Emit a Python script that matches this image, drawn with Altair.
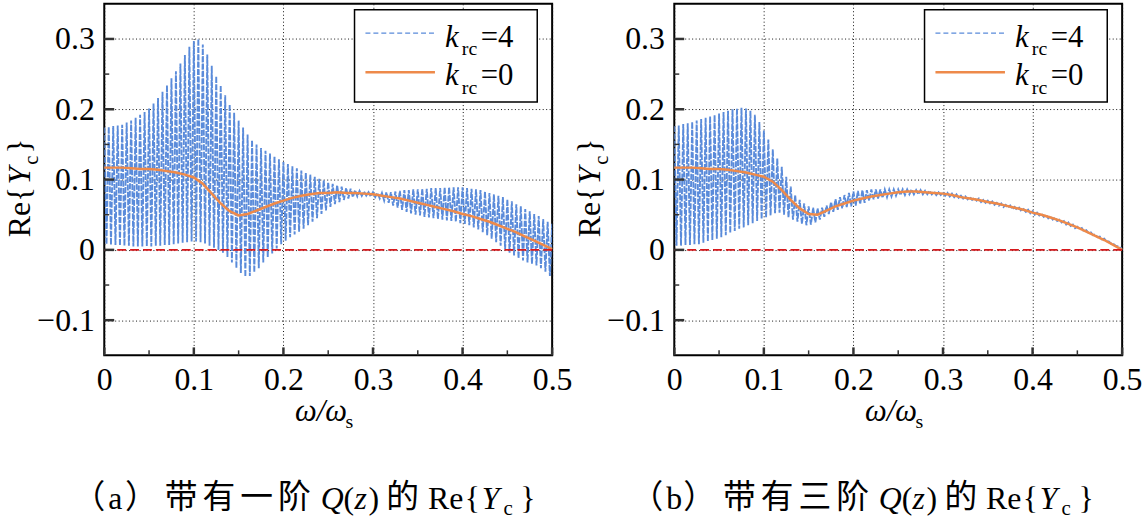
import altair as alt
import pandas as pd

# ---------------- data ----------------
# frequency grids (omega / omega_s)
W_FINE = [round(i * 0.005, 3) for i in range(101)]
W_COARSE = [round(i * 0.01, 2) for i in range(51)]
HALF_STEP = 0.0025

# (a) first-order Q(z): k_rc = 4 oscillation envelope (upper / lower turning points)
A_HI = [0.174, 0.175, 0.176, 0.177, 0.178, 0.181, 0.184, 0.188, 0.192, 0.196,
        0.201, 0.208, 0.216, 0.225, 0.234, 0.244, 0.254, 0.265, 0.277, 0.289,
        0.297, 0.300, 0.292, 0.278, 0.262, 0.247, 0.234, 0.220, 0.207, 0.195,
        0.184, 0.174, 0.164, 0.156, 0.150, 0.145, 0.141, 0.137, 0.133, 0.129,
        0.125, 0.122, 0.119, 0.116, 0.113, 0.110, 0.107, 0.104, 0.101, 0.099,
        0.096, 0.094, 0.092, 0.090, 0.088, 0.087, 0.085, 0.084, 0.083, 0.082,
        0.082, 0.081, 0.081, 0.082, 0.082, 0.083, 0.084, 0.085, 0.085, 0.086,
        0.086, 0.087, 0.087, 0.088, 0.088, 0.088, 0.089, 0.089, 0.089, 0.089,
        0.089, 0.088, 0.087, 0.086, 0.085, 0.083, 0.081, 0.079, 0.077, 0.075,
        0.072, 0.069, 0.065, 0.062, 0.058, 0.055, 0.051, 0.048, 0.044, 0.040,
        0.037]
A_LO = [0.008, 0.007, 0.007, 0.006, 0.006, 0.006, 0.005, 0.005, 0.005, 0.005,
        0.005, 0.006, 0.006, 0.007, 0.007, 0.008, 0.009, 0.010, 0.011, 0.012,
        0.012, 0.011, 0.009, 0.006, 0.003, 0.000, -0.004, -0.010, -0.018, -0.026,
        -0.033, -0.038, -0.037, -0.032, -0.026, -0.018, -0.011, -0.005, 0.002, 0.008,
        0.013, 0.018, 0.022, 0.026, 0.030, 0.035, 0.040, 0.045, 0.051, 0.056,
        0.061, 0.065, 0.068, 0.071, 0.073, 0.075, 0.076, 0.077, 0.077, 0.076,
        0.075, 0.073, 0.070, 0.067, 0.063, 0.060, 0.057, 0.054, 0.052, 0.050,
        0.049, 0.047, 0.046, 0.045, 0.044, 0.043, 0.042, 0.041, 0.040, 0.038,
        0.037, 0.035, 0.032, 0.029, 0.025, 0.021, 0.016, 0.011, 0.006, 0.001,
        -0.004, -0.008, -0.012, -0.015, -0.018, -0.020, -0.022, -0.026, -0.031, -0.037,
        -0.043]
# (a) k_rc = 0
A_K0 = [0.117, 0.117, 0.117, 0.116, 0.115, 0.115, 0.114, 0.112, 0.110, 0.107,
        0.103, 0.094, 0.080, 0.066, 0.055, 0.049, 0.051, 0.056, 0.061, 0.066,
        0.070, 0.074, 0.077, 0.079, 0.081, 0.081, 0.082, 0.081, 0.081, 0.080,
        0.079, 0.077, 0.075, 0.073, 0.070, 0.067, 0.064, 0.061, 0.058, 0.055,
        0.051, 0.048, 0.044, 0.040, 0.035, 0.030, 0.025, 0.019, 0.013, 0.007,
        0.001]

# (b) third-order Q(z): k_rc = 4 envelope
B_HI = [0.176, 0.177, 0.179, 0.180, 0.182, 0.184, 0.186, 0.188, 0.190, 0.192,
        0.194, 0.196, 0.198, 0.200, 0.201, 0.202, 0.201, 0.198, 0.192, 0.182,
        0.170, 0.157, 0.143, 0.130, 0.118, 0.104, 0.090, 0.078, 0.071, 0.066,
        0.062, 0.060, 0.059, 0.060, 0.063, 0.068, 0.072, 0.075, 0.078, 0.081,
        0.083, 0.084, 0.085, 0.085, 0.086, 0.086, 0.086, 0.086, 0.086, 0.086,
        0.086, 0.086, 0.086, 0.086, 0.085, 0.085, 0.084, 0.084, 0.083, 0.082,
        0.082, 0.081, 0.080, 0.079, 0.077, 0.076, 0.075, 0.074, 0.073, 0.071,
        0.070, 0.069, 0.067, 0.066, 0.064, 0.063, 0.061, 0.060, 0.058, 0.057,
        0.055, 0.053, 0.051, 0.050, 0.048, 0.046, 0.043, 0.041, 0.039, 0.036,
        0.033, 0.031, 0.028, 0.025, 0.022, 0.019, 0.016, 0.012, 0.009, 0.005,
        0.002]
B_LO = [0.006, 0.006, 0.007, 0.007, 0.008, 0.008, 0.010, 0.012, 0.014, 0.016,
        0.018, 0.021, 0.024, 0.027, 0.030, 0.032, 0.035, 0.038, 0.041, 0.044,
        0.046, 0.049, 0.052, 0.053, 0.050, 0.046, 0.043, 0.040, 0.037, 0.035,
        0.036, 0.039, 0.043, 0.047, 0.051, 0.054, 0.057, 0.059, 0.061, 0.062,
        0.063, 0.065, 0.067, 0.070, 0.072, 0.073, 0.074, 0.075, 0.076, 0.077,
        0.078, 0.078, 0.079, 0.079, 0.079, 0.079, 0.079, 0.079, 0.078, 0.078,
        0.077, 0.076, 0.075, 0.074, 0.073, 0.072, 0.071, 0.070, 0.068, 0.067,
        0.066, 0.064, 0.063, 0.061, 0.060, 0.058, 0.057, 0.055, 0.054, 0.052,
        0.050, 0.049, 0.047, 0.045, 0.043, 0.041, 0.039, 0.036, 0.034, 0.031,
        0.029, 0.026, 0.024, 0.021, 0.018, 0.015, 0.012, 0.009, 0.006, 0.003,
        0.000]
# (b) k_rc = 0
B_K0 = [0.117, 0.117, 0.117, 0.116, 0.115, 0.115, 0.114, 0.112, 0.110, 0.107,
        0.104, 0.097, 0.085, 0.071, 0.059, 0.051, 0.050, 0.056, 0.062, 0.066,
        0.070, 0.073, 0.076, 0.078, 0.080, 0.082, 0.083, 0.083, 0.082, 0.081,
        0.080, 0.078, 0.075, 0.073, 0.071, 0.068, 0.066, 0.063, 0.060, 0.057,
        0.053, 0.050, 0.046, 0.042, 0.037, 0.032, 0.026, 0.020, 0.014, 0.007,
        0.000]

X_TICKS = [0, 0.1, 0.2, 0.3, 0.4, 0.5]
X_MINOR = [0.05, 0.15, 0.25, 0.35, 0.45]
Y_TICKS = [-0.1, 0, 0.1, 0.2, 0.3]
Y_MINOR = [-0.05, 0.05, 0.15, 0.25]

# ---------------- styling ----------------
BLUE = "#5A8BDA"
ORANGE = "#EE8A4A"
RED = "#D7191C"
SERIF = "Liberation Serif"
CJK = "Noto Sans CJK SC"
PW, PH = 451, 354

XS = alt.Scale(domain=[0, 0.5], nice=False, zero=False)
YS = alt.Scale(domain=[-0.15, 0.35], nice=False, zero=False)

# every layer that uses the shared scales carries the same axis definition
X_AXIS = alt.Axis(values=X_TICKS, format="~g", title=None, ticks=False, domain=False,
                  grid=True, labelPadding=9, labelFlush=False)
Y_AXIS = alt.Axis(values=Y_TICKS, format="~g", title=None, ticks=False, domain=False,
                  grid=True, labelPadding=10, labelFlush=False)


def X(field):
    return alt.X(field, type="quantitative", scale=XS, axis=X_AXIS)


def Y(field):
    return alt.Y(field, type="quantitative", scale=YS, axis=Y_AXIS)


ONE = pd.DataFrame({"v": [0]})


def zigzag(hi, lo):
    rows = []
    for i, (w, h, l) in enumerate(zip(W_FINE, hi, lo)):
        rows.append({"w": w, "v": h, "i": 2 * i})
        rows.append({"w": w + HALF_STEP, "v": l, "i": 2 * i + 1})
    return pd.DataFrame(rows)


def label(t, px, py, fs, font=SERIF, style="normal", angle=0):
    # a single piece of text placed in pixel coordinates of the panel
    return alt.Chart(ONE).mark_text(
        font=font, fontStyle=style, angle=angle, align="left",
        baseline="alphabetic", color="black", fontSize=fs
    ).encode(text=alt.value(t), x=alt.value(px), y=alt.value(py))


def tick_layer(vals, length, width, horizontal):
    df = pd.DataFrame({"v": vals})
    m = alt.Chart(df).mark_rule(color="#333", strokeWidth=width)
    if horizontal:
        return m.encode(y=Y("v"), x=alt.value(0), x2=alt.value(length))
    return m.encode(x=X("v"), y=alt.value(PH), y2=alt.value(PH - length))


def panel(hi, lo, k0, tag, order_char, cap_x):
    blue = alt.Chart(zigzag(hi, lo)).mark_line(
        color=BLUE, strokeWidth=1.9, strokeDash=[6, 1.4], clip=True
    ).encode(x=X("w"), y=Y("v"), order="i:Q")
    orange = alt.Chart(pd.DataFrame({"w": W_COARSE, "v": k0})).mark_line(
        color=ORANGE, strokeWidth=2.5
    ).encode(x=X("w"), y=Y("v"))
    red = alt.Chart(ONE).mark_rule(
        color=RED, strokeWidth=2, strokeDash=[9, 4]
    ).encode(y=Y("v"))

    ticks = [
        tick_layer(Y_TICKS, 10, 2.5, True),
        tick_layer(Y_MINOR, 5, 1.5, True),
        tick_layer(X_TICKS, 8, 2.5, False),
        tick_layer(X_MINOR, 5, 1.5, False),
    ]

    # legend box and line samples
    box = alt.Chart(ONE).mark_rect(
        fill="white", stroke="black", strokeWidth=1.5
    ).encode(x=alt.value(252), x2=alt.value(436), y=alt.value(6), y2=alt.value(99))
    samp_blue = alt.Chart(ONE).mark_rule(
        color=BLUE, strokeWidth=1.2, strokeDash=[5, 3]
    ).encode(x=alt.value(263), x2=alt.value(333), y=alt.value(29.5))
    samp_orange = alt.Chart(ONE).mark_rule(
        color=ORANGE, strokeWidth=2.5
    ).encode(x=alt.value(263), x2=alt.value(333), y=alt.value(69))

    texts = [
        # legend entries
        label("k", 343, 43, 31, style="italic"), label("rc", 360, 52, 20), label("=4", 379, 43, 31),
        label("k", 343, 82, 31, style="italic"), label("rc", 360, 91, 20), label("=0", 379, 82, 31),
        # x title
        label("ω/ω", 192, 420, 31, style="italic"), label("s", 243, 427, 20),
        # y title (rotated)
        label("Re{", -75, 235, 32, angle=270), label("Y", -75, 182, 32, style="italic", angle=270),
        label("c", -67, 162, 21, angle=270), label("}", -75, 151, 32, angle=270),
        # caption
        label("（", cap_x, 508, 33, font=CJK), label(order_char, cap_x + 36, 509, 32),
        label("）", cap_x + 53, 508, 33, font=CJK),
        label("带", cap_x + 93, 508, 33, font=CJK), label("有", cap_x + 131, 508, 33, font=CJK),
        label(tag, cap_x + 169, 508, 33, font=CJK), label("阶", cap_x + 207, 508, 33, font=CJK),
        label("Q", cap_x + 250, 509, 32, style="italic"), label("(", cap_x + 273, 509, 32),
        label("z", cap_x + 284, 509, 32, style="italic"), label(")", cap_x + 298, 509, 32),
        label("的", cap_x + 316, 508, 33, font=CJK),
        label("Re", cap_x + 358, 509, 32), label("{", cap_x + 395, 509, 32),
        label("Y", cap_x + 412, 509, 32, style="italic"), label("c", cap_x + 434, 515, 21),
        label("}", cap_x + 451, 509, 32),
    ]

    layers = [blue, orange, red] + ticks + [box, samp_blue, samp_orange] + texts
    return alt.layer(*layers).properties(width=PW, height=PH)


left = panel(A_HI, A_LO, A_K0, "一", "a", -32)
right = panel(B_HI, B_LO, B_K0, "三", "b", -44)

chart = alt.hconcat(left, right, spacing=0).properties(
    padding={"left": 3, "top": 1, "right": 0, "bottom": 0},
    background="white",
).configure_view(
    stroke="black", strokeWidth=2
).configure_axis(
    labelFont=SERIF, labelFontSize=32, labelColor="black",
    gridColor="#111", gridDash=[1, 2.5], gridWidth=1, gridOpacity=1,
)

chart.save("out.html", embed_options={"renderer": "svg", "actions": False})
